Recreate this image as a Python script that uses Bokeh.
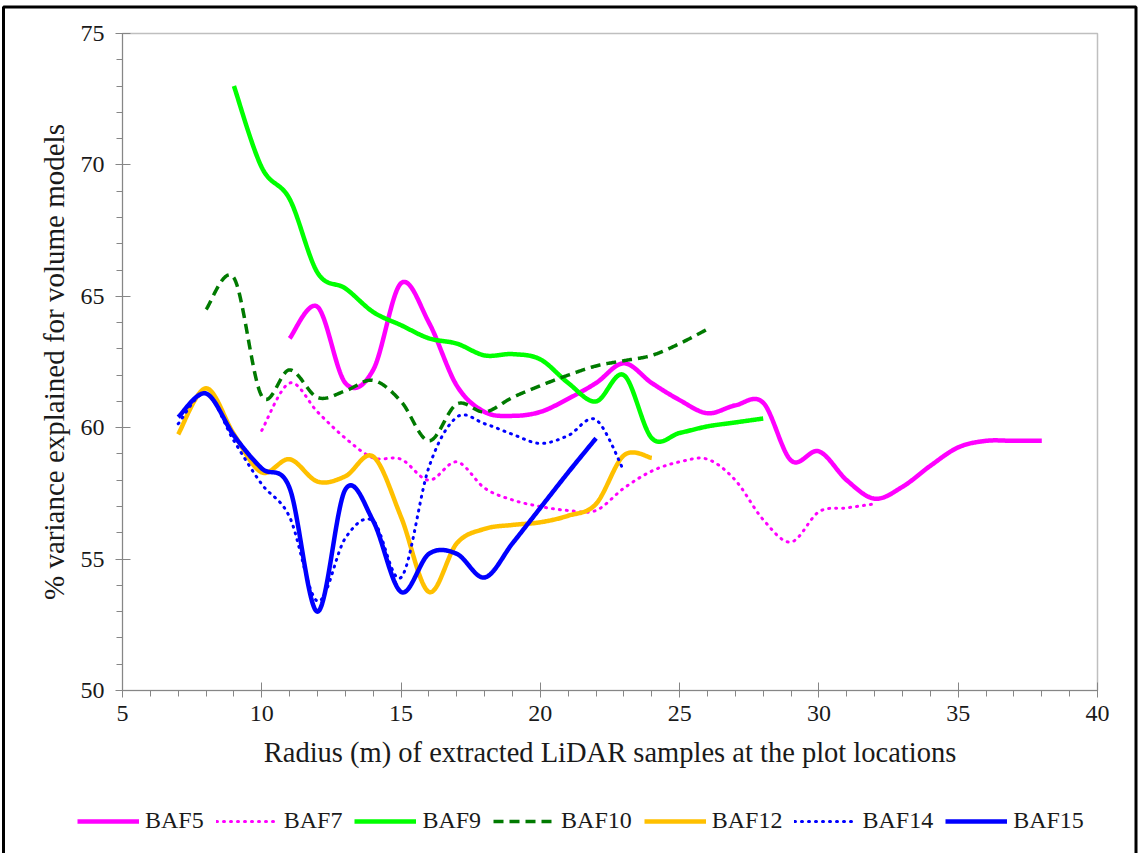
import numpy as np
from bokeh.plotting import figure
from bokeh.models import Legend, LegendItem, SingleIntervalTicker, Range1d, BoxAnnotation
from bokeh.embed import file_html
from bokeh.resources import INLINE

# ---- data ----
radius_baf5 = list(range(11, 39))
baf5 = [63.4, 64.6, 61.7, 62.2, 65.5, 64.0, 61.6, 60.6, 60.45, 60.6, 61.1, 61.7, 62.45, 61.7,
        61.05, 60.55, 60.85, 60.95, 58.75, 59.1, 58.0, 57.3, 57.75, 58.55, 59.25, 59.5, 59.5, 59.5]
radius_baf7 = list(range(10, 33))
baf7 = [59.9, 61.7, 60.6, 59.6, 58.85, 58.8, 58.0, 58.7, 57.7, 57.25, 57.0, 56.85, 56.85, 57.7,
        58.35, 58.7, 58.8, 58.0, 56.5, 55.65, 56.8, 56.95, 57.1]
radius_baf9 = list(range(9, 29))
baf9 = [73.0, 69.9, 68.7, 65.9, 65.3, 64.4, 63.9, 63.4, 63.2, 62.75, 62.8, 62.6, 61.7, 61.0,
        62.0, 59.6, 59.8, 60.05, 60.2, 60.35]
radius_baf10 = list(range(8, 27))
baf10 = [64.5, 65.7, 61.2, 62.2, 61.15, 61.4, 61.8, 61.0, 59.5, 60.9, 60.6, 61.15, 61.6, 62.0,
         62.35, 62.55, 62.75, 63.2, 63.75]
radius_baf12 = list(range(7, 25))
baf12 = [59.75, 61.5, 59.75, 58.3, 58.8, 57.95, 58.15, 58.9, 56.6, 53.75, 55.6, 56.15, 56.3,
         56.4, 56.65, 57.1, 58.95, 58.85]
radius_baf14 = list(range(7, 24))
baf14 = [60.15, 61.3, 59.5, 57.85, 56.6, 53.4, 55.8, 56.45, 54.3, 58.5, 60.4, 60.15, 59.75,
         59.4, 59.7, 60.3, 58.35]
radius_baf15 = list(range(7, 23))
baf15 = [60.4, 61.3, 59.7, 58.45, 57.7, 53.0, 57.65, 56.45, 53.75, 55.2, 55.2, 54.3, 55.6,
         56.95, 58.3, 59.6]

series_names = ["BAF5", "BAF7", "BAF9", "BAF10", "BAF12", "BAF14", "BAF15"]
x_axis_min, x_axis_max, x_ticks_interval = 5, 40, 5
y_axis_min, y_axis_max, y_ticks_interval = 50, 75, 5

FONT = "Liberation Serif"

# layout (pixels in the 1138x853 canvas)
W, H = 1138, 853
PX_LEFT, PX_RIGHT, PX_TOP, PX_BOTTOM = 122, 1097, 33, 690


def smooth(xs, ys, n=30):
    """Excel-like smoothed line (Catmull-Rom Bezier) through the data points."""
    P = np.column_stack([np.asarray(xs, float), np.asarray(ys, float)])
    m = len(P)
    out = [P[0]]
    t = np.linspace(0, 1, n + 1)[1:, None]
    for i in range(m - 1):
        p0 = P[max(i - 1, 0)]
        p1 = P[i]
        p2 = P[i + 1]
        p3 = P[min(i + 2, m - 1)]
        c1 = p1 + (p2 - p0) / 6.0
        c2 = p2 - (p3 - p1) / 6.0
        seg = ((1 - t) ** 3) * p1 + 3 * ((1 - t) ** 2) * t * c1 + 3 * (1 - t) * t ** 2 * c2 + t ** 3 * p2
        out.extend(seg)
    out = np.array(out)
    return out[:, 0], out[:, 1]


# the frame fills the whole canvas; ranges are extended so that the axis box sits
# at the reference's pixel position
xs_per_px = (x_axis_max - x_axis_min) / (PX_RIGHT - PX_LEFT)
ys_per_px = (y_axis_max - y_axis_min) / (PX_BOTTOM - PX_TOP)
x_range = Range1d(x_axis_min - PX_LEFT * xs_per_px, x_axis_max + (W - PX_RIGHT) * xs_per_px)
y_range = Range1d(y_axis_min - (H - PX_BOTTOM) * ys_per_px, y_axis_max + PX_TOP * ys_per_px)

p = figure(width=W, height=H, output_backend="svg", toolbar_location=None,
           x_range=x_range, y_range=y_range, min_border=0)
p.xgrid.visible = False
p.ygrid.visible = False
p.outline_line_color = None
p.background_fill_color = "white"
p.border_fill_color = "white"

p.xaxis.fixed_location = y_axis_min
p.yaxis.fixed_location = x_axis_min
p.xaxis.bounds = (x_axis_min, x_axis_max)
p.yaxis.bounds = (y_axis_min, y_axis_max)

for ax, interval in ((p.xaxis[0], x_ticks_interval), (p.yaxis[0], y_ticks_interval)):
    ax.ticker = SingleIntervalTicker(interval=interval, num_minor_ticks=5)
    ax.axis_line_color = "#868686"
    ax.major_tick_line_color = "#868686"
    ax.minor_tick_line_color = "#868686"
    ax.major_tick_in = 8
    ax.major_tick_out = 7
    ax.minor_tick_in = 0
    ax.minor_tick_out = 6
    ax.major_label_text_font = FONT
    ax.major_label_text_font_size = "24px"
    ax.major_label_text_color = "#1a1a1a"
    ax.axis_label_text_font = FONT
    ax.axis_label_text_font_style = "normal"
    ax.axis_label_text_color = "#1a1a1a"

p.xaxis.axis_label_text_font_size = "28.5px"
p.yaxis.axis_label_text_font_size = "29px"
p.xaxis.axis_label = "Radius (m) of extracted LiDAR samples at the plot locations"
p.yaxis.axis_label = "% variance explained for volume models"
p.xaxis.major_label_standoff = 8
p.yaxis.major_label_standoff = 11
p.xaxis.axis_label_standoff = 13
p.yaxis.axis_label_standoff = 8

# light grey plot-area border
p.add_layout(BoxAnnotation(left=x_axis_min, right=x_axis_max, bottom=y_axis_min, top=y_axis_max,
                           fill_alpha=0, line_color="#BFBFBF", line_alpha=1, line_width=1.5,
                           level="underlay"))

DOT = "1 6"
styles = [
    dict(color="#FF00FF", width=4.5, dash="solid"),
    dict(color="#FF00FF", width=3, dash=DOT),
    dict(color="#00FF00", width=4.5, dash="solid"),
    dict(color="#007A00", width=3.5, dash="10 6"),
    dict(color="#FFC000", width=4.5, dash="solid"),
    dict(color="#0000FF", width=3, dash=DOT),
    dict(color="#0000FF", width=4.5, dash="solid"),
]
data = [(radius_baf5, baf5), (radius_baf7, baf7), (radius_baf9, baf9), (radius_baf10, baf10),
        (radius_baf12, baf12), (radius_baf14, baf14), (radius_baf15, baf15)]

items = []
for name, (xs, ys), st in zip(series_names, data, styles):
    sx, sy = smooth(xs, ys)
    r = p.line(sx, sy, line_color=st["color"], line_width=st["width"], line_dash=st["dash"],
               line_cap="round" if st["dash"] == DOT else "butt", line_join="round")
    items.append(LegendItem(label=name, renderers=[r]))

legend = Legend(items=items, orientation="horizontal", location=(77, 19),
                glyph_width=62, glyph_height=20, label_standoff=6, spacing=12,
                padding=0, margin=0, border_line_color=None, background_fill_alpha=0,
                label_text_font=FONT, label_text_font_size="24px", label_text_color="#1a1a1a")
p.add_layout(legend)

# black outer frame of the picture (screen y is counted from the bottom)
p.add_layout(BoxAnnotation(left=3, right=1135.5, top=H - 6.5, bottom=-20,
                           left_units="screen", right_units="screen",
                           top_units="screen", bottom_units="screen",
                           fill_alpha=0, line_color="black", line_alpha=1, line_width=3))

open("out.html", "w").write(file_html(p, INLINE))
